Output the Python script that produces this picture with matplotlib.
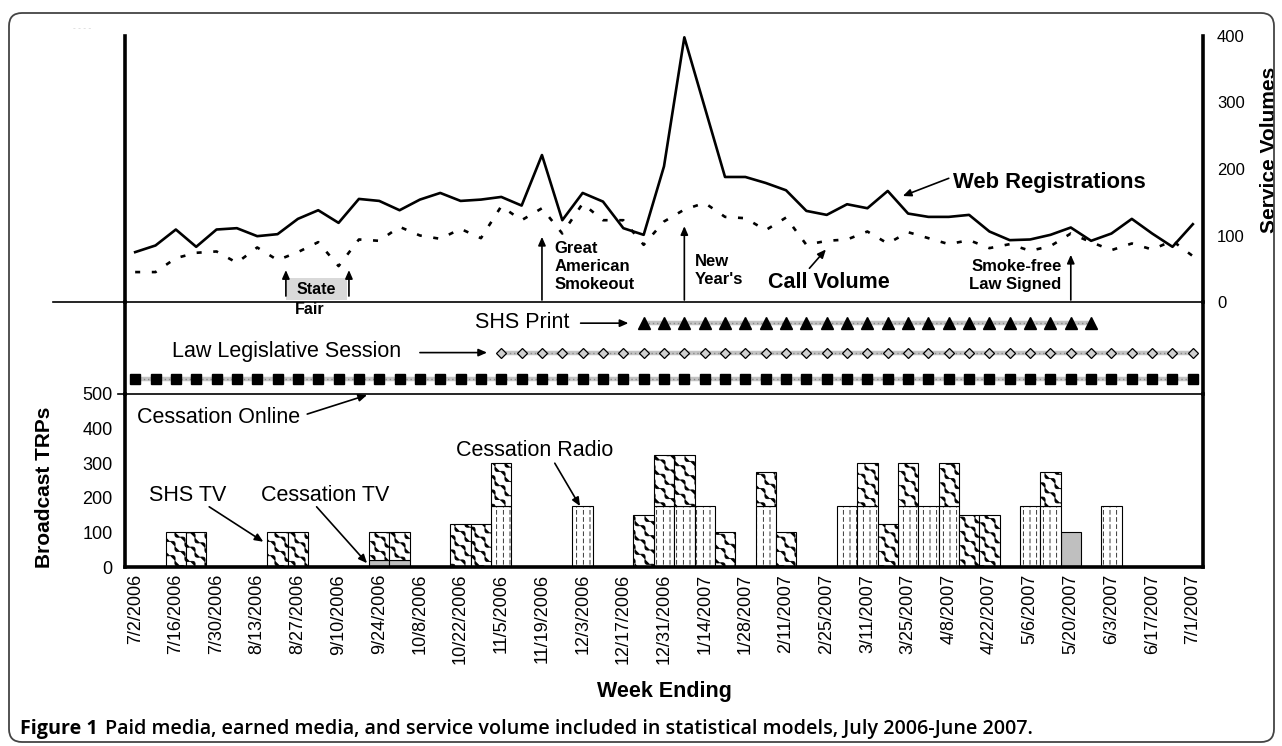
import warnings
import numpy as np
import matplotlib
matplotlib.use('Agg')
import matplotlib.pyplot as plt
import matplotlib.hatch as mhatch
from matplotlib.path import Path
from matplotlib.patches import FancyBboxPatch, Rectangle

warnings.filterwarnings('ignore')
plt.rcParams['font.family'] = ['Liberation Sans', 'DejaVu Sans']
plt.rcParams['hatch.linewidth'] = 0.55

# ------------------------------------------------------------------ data
week_labels = ['7/2/2006', '7/16/2006', '7/30/2006', '8/13/2006', '8/27/2006', '9/10/2006',
               '9/24/2006', '10/8/2006', '10/22/2006', '11/5/2006', '11/19/2006', '12/3/2006',
               '12/17/2006', '12/31/2006', '1/14/2007', '1/28/2007', '2/11/2007', '2/25/2007',
               '3/11/2007', '3/25/2007', '4/8/2007', '4/22/2007', '5/6/2007', '5/20/2007',
               '6/3/2007', '6/17/2007', '7/1/2007']

web_registrations = [75, 85, 109, 83, 109, 111, 99, 102, 125, 138,
                     119, 155, 152, 138, 154, 164, 152, 154, 158, 145,
                     221, 123, 164, 151, 111, 101, 204, 398, 293, 188,
                     188, 179, 168, 137, 131, 147, 141, 167, 133, 128,
                     128, 131, 106, 93, 94, 101, 112, 92, 103, 125,
                     103, 83, 117]

call_volume = [45, 45, 66, 74, 76, 59, 82, 63, 75, 90,
               54, 94, 92, 113, 100, 95, 110, 96, 144, 123,
               141, 103, 148, 123, 123, 86, 121, 139, 149, 128,
               126, 108, 127, 86, 92, 94, 106, 88, 105, 96,
               87, 93, 81, 87, 77, 84, 103, 90, 78, 88,
               79, 92, 69]

cessation_tv = [0, 0, 0, 0, 0, 0, 0, 0, 0, 0,
                0, 0, 20, 20, 0, 0, 0, 0, 0, 0,
                0, 0, 0, 0, 0, 0, 0, 0, 0, 0,
                0, 0, 0, 0, 0, 0, 0, 0, 0, 0,
                0, 0, 0, 0, 0, 0, 100, 0, 0, 0,
                0, 0, 0]

cessation_radio = [0, 0, 0, 0, 0, 0, 0, 0, 0, 0,
                   0, 0, 0, 0, 0, 0, 0, 0, 175, 0,
                   0, 0, 175, 0, 0, 0, 175, 175, 175, 0,
                   0, 175, 0, 0, 0, 175, 175, 0, 175, 175,
                   175, 0, 0, 0, 175, 175, 0, 0, 175, 0,
                   0, 0, 0]

shs_tv = [0, 0, 100, 100, 0, 0, 0, 100, 100, 0,
          0, 0, 80, 80, 0, 0, 125, 125, 125, 0,
          0, 0, 0, 0, 0, 150, 150, 150, 0, 100,
          0, 100, 100, 0, 0, 0, 125, 125, 125, 0,
          125, 150, 150, 0, 0, 100, 0, 0, 0, 0,
          0, 0, 0]

# on/off flags of the non-broadcast media, one per week
cessation_online = [1] * 53
law_session = [0] * 18 + [1] * 35
shs_print = [0] * 25 + [1] * 23 + [0] * 5

# earned-media events (week index)
great_smokeout_week = 20
new_years_week = 27
smokefree_week = 46
state_fair_weeks = (7.41, 10.51)

weeks = np.arange(len(web_registrations))


# ------------------------------------------------------------------ custom hatches
class WavyHatch(mhatch.HatchPatternBase):
    """Diagonal wavy lines (Excel 'wave'-like pattern), char '~'."""
    def __init__(self, hatch, density):
        self.num_lines = 7 * hatch.count('~')
        self.n_pts = 145
        self.num_vertices = 2 * self.num_lines * self.n_pts

    def set_vertices_and_codes(self, vertices, codes):
        n = self.num_lines
        t = np.linspace(0, 1, self.n_pts)
        wave = 0.028 * np.sin(2 * np.pi * 10 * t) / np.sqrt(2)
        segs = []
        for k in range(2 * n):
            c = k / n
            segs.append(np.column_stack([t + wave, c - t + wave]))
        vertices[:] = np.vstack(segs)
        codes[:] = Path.LINETO
        codes[0::self.n_pts] = Path.MOVETO


class DashedVerticalHatch(mhatch.HatchPatternBase):
    """Vertical dashed lines, char ':'."""
    def __init__(self, hatch, density):
        self.num_lines = 15 * hatch.count(':')
        self.n_dash = 14
        self.num_vertices = self.num_lines * self.n_dash * 2

    def set_vertices_and_codes(self, vertices, codes):
        xs = (np.arange(self.num_lines) + 0.5) / max(self.num_lines, 1)
        y0 = np.arange(self.n_dash) / self.n_dash
        y1 = y0 + 0.55 / self.n_dash
        v = []
        for x in xs:
            for a, b in zip(y0, y1):
                v.append((x, a))
                v.append((x, b))
        vertices[:] = np.array(v)
        codes[0::2] = Path.MOVETO
        codes[1::2] = Path.LINETO


mhatch._hatch_types.extend([WavyHatch, DashedVerticalHatch])

# ------------------------------------------------------------------ figure
W, H = 1282, 746
fig = plt.figure(figsize=(W / 100, H / 100), dpi=100)


def rect(x0, y0, x1, y1):
    return [x0 / W, 1 - y1 / H, (x1 - x0) / W, (y1 - y0) / H]


XL, XR = 125, 1203
ax_top = fig.add_axes(rect(XL, 36, XR, 302))
ax_mid = fig.add_axes(rect(XL, 302, XR, 394))
ax_bot = fig.add_axes(rect(XL, 394, XR, 567))

for ax in (ax_top, ax_mid, ax_bot):
    ax.set_xlim(-0.5, 52.5)
    ax.set_facecolor('none')
    for s in ax.spines.values():
        s.set_visible(False)
    for s in ('left', 'right'):
        ax.spines[s].set_visible(True)
        ax.spines[s].set_linewidth(2.6)
    ax.tick_params(length=0)

# ---------------- top: service volumes
ax_top.set_ylim(0, 400)
ax_top.set_xticks([])
ax_top.yaxis.tick_right()
ax_top.set_yticks(range(0, 401, 100))
ax_top.tick_params(axis='y', labelsize=12, pad=10)
ax_top.axhline(0, xmin=(53 - XL) / (XR - XL), xmax=1, color='black', lw=1.2, clip_on=False)
ax_top.plot(weeks, web_registrations, color='black', lw=1.9)
ax_top.plot(weeks, call_volume, color='black', lw=1.9, linestyle=(0, (1.9, 4.4)))
ax_top.set_ylabel('Service Volumes', fontsize=15, fontweight='bold')
ax_top.yaxis.set_label_position('right')
ax_top.yaxis.set_label_coords(1.053, 0.571)


def arrow(ax, x0, y0, x1, y1, lw=1.2):
    ax.annotate('', xy=(x1, y1), xytext=(x0, y0), annotation_clip=False,
                arrowprops=dict(arrowstyle='-|>,head_length=0.5,head_width=0.22',
                                color='black', lw=lw, shrinkA=0, shrinkB=0))


# State Fair
ax_top.add_patch(Rectangle((state_fair_weeks[0], 3), state_fair_weeks[1] - state_fair_weeks[0] - 0.1, 33,
                           facecolor='#d9d9d9', edgecolor='none', zorder=0))
ax_top.text(8.9, 19, 'State', fontsize=11.5, fontweight='bold', ha='center', va='center')
ax_top.text(8.6, -12, 'Fair', fontsize=11.5, fontweight='bold', ha='center', va='center', clip_on=False)
for xw in state_fair_weeks:
    arrow(ax_top, xw, 9, xw, 48)

# Great American Smokeout
arrow(ax_top, great_smokeout_week, 3, great_smokeout_week, 98)
ax_top.text(great_smokeout_week + 0.6, 54, 'Great\nAmerican\nSmokeout', fontsize=12,
            fontweight='bold', ha='left', va='center', linespacing=1.25)
# New Year's
arrow(ax_top, new_years_week, 3, new_years_week, 114)
ax_top.text(new_years_week + 0.5, 48, "New\nYear's", fontsize=12, fontweight='bold',
            ha='left', va='center', linespacing=1.25)
# Smoke-free law
arrow(ax_top, smokefree_week, 3, smokefree_week, 71)
ax_top.text(smokefree_week - 0.45, 40, 'Smoke-free\nLaw Signed', fontsize=12, fontweight='bold',
            ha='right', va='center', multialignment='right', linespacing=1.25)
# series labels
ax_top.text(40.2, 179, 'Web Registrations', fontsize=15.8, fontweight='bold', ha='left', va='center')
arrow(ax_top, 40.0, 186, 37.74, 159.4)
ax_top.text(31.1, 28.6, 'Call Volume', fontsize=15.5, fontweight='bold', ha='left', va='center')
arrow(ax_top, 33.15, 50.7, 33.96, 79)

# ---------------- middle: flags
ax_mid.set_ylim(0, 1)
ax_mid.set_xticks([])
ax_mid.set_yticks([])
rows = [(shs_print, 0.77, dict(marker='^', markersize=8, markerfacecolor='black', markeredgecolor='black')),
        (law_session, 0.45, dict(marker='D', markersize=5.2, markerfacecolor='#d0d0d0',
                                 markeredgecolor='black', markeredgewidth=0.9)),
        (cessation_online, 0.16, dict(marker='s', markersize=7.2, markerfacecolor='black',
                                      markeredgecolor='black'))]
for flags, yrow, mk in rows:
    xs = weeks[np.array(flags) == 1]
    ys = np.full(len(xs), yrow)
    ax_mid.plot(xs, ys, color='#c4c4c4', lw=3.2, zorder=1, solid_capstyle='butt')
    ax_mid.plot(xs, ys, color='#8a8a8a', lw=1.0, linestyle=(0, (1, 2)), zorder=2)
    ax_mid.plot(xs, ys, linestyle='none', zorder=3, **mk)

lab_fs = 15.5
ax_mid.text(16.7, 0.78, 'SHS Print', fontsize=lab_fs, ha='left', va='center')
arrow(ax_mid, 21.9, 0.77, 24.25, 0.77)
ax_mid.text(1.81, 0.46, 'Law Legislative Session', fontsize=lab_fs, ha='left', va='center')
arrow(ax_mid, 14.0, 0.45, 17.3, 0.45)

# ---------------- bottom: broadcast TRPs
ax_bot.set_ylim(0, 500)
ax_bot.set_yticks(range(0, 501, 100))
ax_bot.tick_params(axis='y', labelsize=13, pad=9)
ax_bot.spines['bottom'].set_visible(True)
ax_bot.spines['bottom'].set_linewidth(2.6)
ax_bot.axhline(500, xmin=(118 - XL) / (XR - XL), xmax=1, color='black', lw=1.2, clip_on=False)
ax_bot.set_xticks(weeks[::2])
ax_bot.set_xticklabels(week_labels, rotation=90, fontsize=13)
ax_bot.tick_params(axis='x', pad=5)
ax_bot.set_ylabel('Broadcast TRPs', fontsize=15, fontweight='bold')
ax_bot.yaxis.set_label_coords(-0.066, 0.462)

ctv = np.array(cessation_tv)
rad = np.array(cessation_radio)
stv = np.array(shs_tv)
m = ctv > 0
ax_bot.bar(weeks[m], ctv[m], width=1.0, color='#bfbfbf', edgecolor='black', lw=0.8)
m = rad > 0
ax_bot.bar(weeks[m], rad[m], width=1.0, bottom=ctv[m], color='white', edgecolor='black',
           lw=0.8, hatch=':')
m = stv > 0
ax_bot.bar(weeks[m], stv[m], width=1.0, bottom=(ctv + rad)[m], color='white', edgecolor='black',
           lw=0.8, hatch='~')

ax_bot.text(0.09, 433, 'Cessation Online', fontsize=lab_fs, ha='left', va='center')
arrow(ax_bot, 8.46, 442, 11.4, 497)
ax_bot.text(0.68, 208, 'SHS TV', fontsize=lab_fs, ha='left', va='center')
arrow(ax_bot, 3.64, 174, 6.3, 73)
ax_bot.text(6.17, 208, 'Cessation TV', fontsize=lab_fs, ha='left', va='center')
arrow(ax_bot, 8.92, 174, 11.4, 11)
ax_bot.text(15.75, 338, 'Cessation Radio', fontsize=lab_fs, ha='left', va='center')
arrow(ax_bot, 20.63, 300, 21.87, 176)

fig.text((XL + XR) / 2 / W, 1 - 691 / H, 'Week Ending', ha='center', va='center',
         fontsize=15.5, fontweight='bold')

# faint artefact at top-left
fig.text(73 / W, 1 - 28 / H, '- - - -', color='#cccccc', fontsize=6, va='center')

# caption
cap_font = ['Open Sans', 'DejaVu Sans']
cap1 = fig.text(20 / W, 1 - 729 / H, 'Figure 1', fontsize=14.2, fontweight='bold',
                family=cap_font, va='center')
ax_top.annotate('Paid media, earned media, and service volume included in statistical models, '
                'July 2006-June 2007.', xy=(1, 0), xycoords=cap1, xytext=(5, 0),
                textcoords='offset points', fontsize=14.2, fontweight='semibold',
                family=cap_font, va='bottom', annotation_clip=False)

# frame
frame = FancyBboxPatch((0.09, 0.04), 12.65, 7.29, boxstyle='round,pad=0,rounding_size=0.13',
                       transform=fig.dpi_scale_trans, fill=False, edgecolor='#444444', lw=1.3)
fig.add_artist(frame)

fig.savefig('out.png', dpi=100)
